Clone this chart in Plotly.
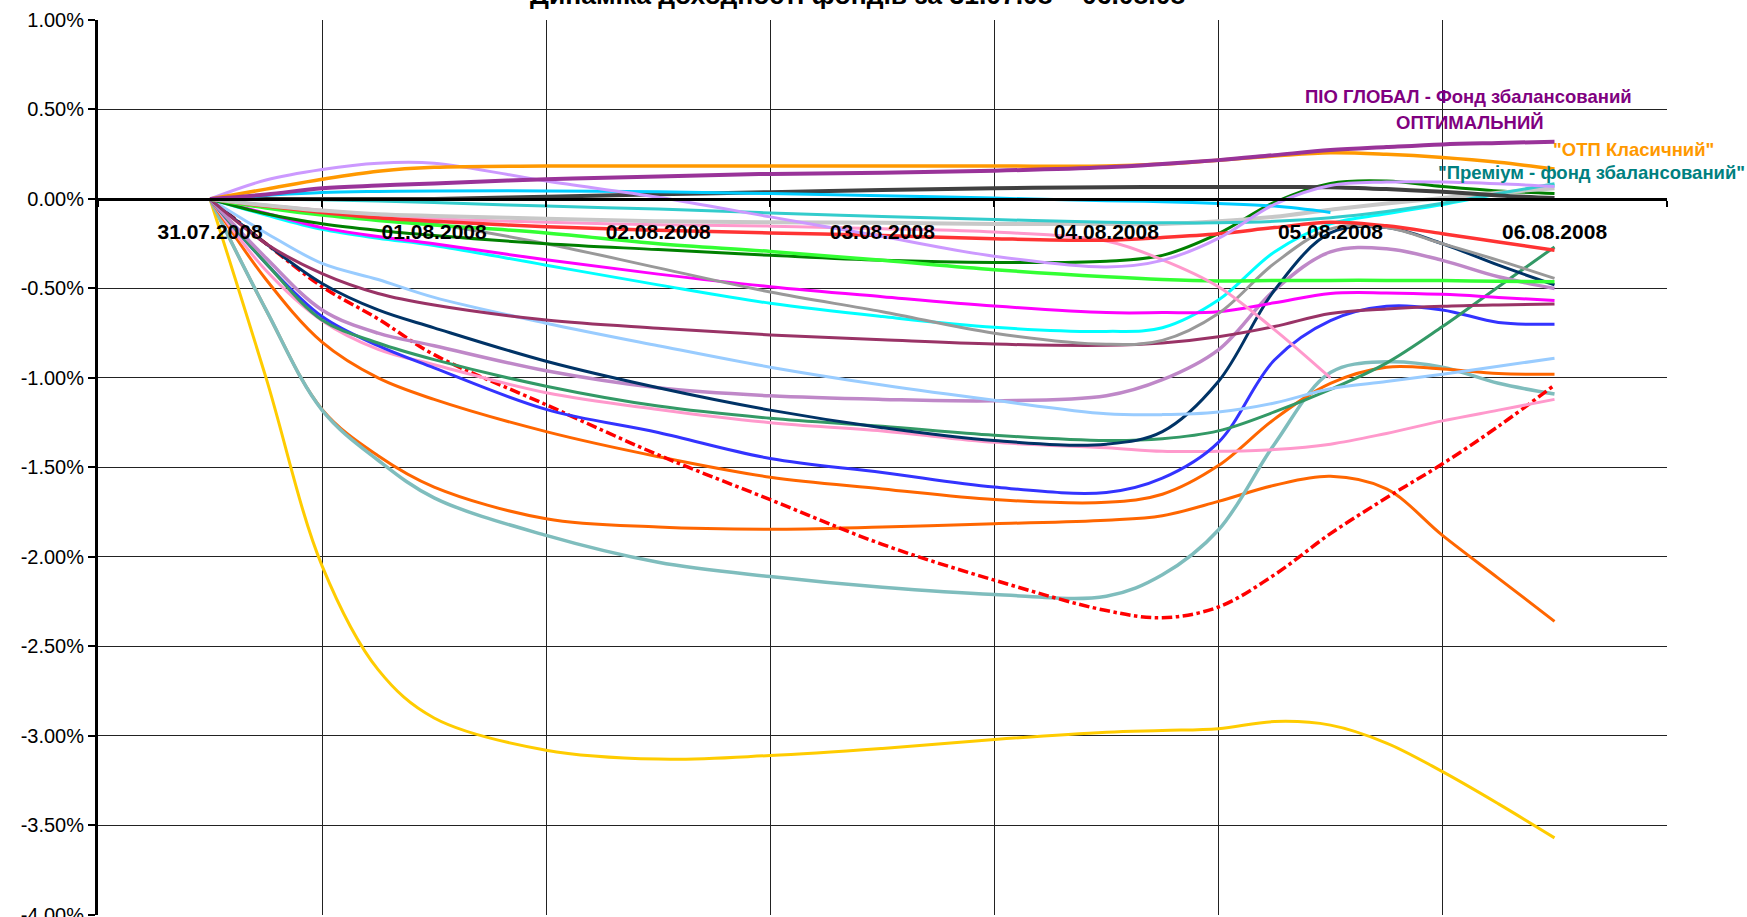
import plotly.graph_objects as go

# ---------------- data ----------------
dates = ["31.07.2008", "01.08.2008", "02.08.2008", "03.08.2008",
         "04.08.2008", "05.08.2008", "06.08.2008"]
# sampling positions (in days from 31.07.2008)
X = [0, 0.25, 0.5, 0.75, 1, 1.5, 2, 2.5, 3, 3.5, 4, 4.25, 4.5, 4.75, 5, 5.25, 5.5, 5.75, 6]

pio_optimal = [0, .025, .06, .075, .087, .11, .125, .14, .147, .158, .177, .195, .217, .245, .273, .29, .305, .313, .32]
otp_classic = [0, .055, .11, .155, .177, .184, .184, .184, .184, .184, .184, .195, .217, .24, .258, .25, .232, .205, .167]
s_lilac = [0, .106, .165, .2, .2, .1, .01, -.1, -.21, -.32, -.38, -.343, -.22, -.03, .075, .095, .095, .085, .07]
s_skyblue = [0, .02, .036, .042, .045, .045, .04, .03, .018, .005, -.01, -.015, -.025, -.04, -.075, None, None, None, None]
s_darkgray = [0, 0, 0, 0, 0, .013, .026, .038, .05, .06, .066, .067, .067, .067, .066, .055, .04, .02, .005]
premium = [0, -.002, -.005, -.012, -.02, -.04, -.056, -.078, -.098, -.115, -.13, -.133, -.133, -.125, -.105, -.07, -.024, .03, .085]
s_lightgray = [0, -.035, -.065, -.085, -.095, -.11, -.125, -.13, -.133, -.14, -.14, -.14, -.125, -.1, -.06, -.025, .005, .035, .06]
s_red = [0, -.04, -.075, -.105, -.125, -.155, -.175, -.19, -.204, -.222, -.23, -.215, -.194, -.16, -.13, -.15, -.194, -.24, -.287]
s_pink1 = [0, -.035, -.065, -.09, -.11, -.13, -.144, -.152, -.167, -.185, -.235, -.34, -.49, -.73, -1.0, None, None, None, None]
s_lime = [0, -.05, -.09, -.12, -.145, -.19, -.25, -.293, -.343, -.395, -.435, -.45, -.458, -.456, -.455, -.455, -.456, -.46, -.462]
s_green = [0, -.083, -.139, -.176, -.204, -.25, -.283, -.315, -.343, -.355, -.348, -.315, -.194, -.019, .087, .1, .07, .045, .031]
s_gray = [0, -.037, -.065, -.1, -.14, -.25, -.385, -.52, -.63, -.75, -.812, -.79, -.64, -.36, -.167, -.16, -.25, -.343, -.444]
s_magenta = [0, -.08, -.16, -.21, -.25, -.34, -.42, -.49, -.546, -.598, -.635, -.635, -.63, -.58, -.528, -.525, -.533, -.55, -.568]
s_cyan = [0, -.09, -.17, -.22, -.26, -.37, -.48, -.583, -.657, -.717, -.74, -.72, -.565, -.296, -.139, -.083, -.031, .028, .074]
s_maroon = [0, -.25, -.417, -.528, -.593, -.676, -.722, -.76, -.787, -.811, -.818, -.805, -.77, -.713, -.64, -.615, -.6, -.592, -.587]
s_lightblue = [0, -.19, -.36, -.45, -.55, -.694, -.82, -.94, -1.04, -1.125, -1.2, -1.205, -1.19, -1.14, -1.06, -1.02, -.98, -.935, -.89]
s_navy = [0, -.25, -.472, -.62, -.72, -.907, -1.055, -1.18, -1.278, -1.35, -1.37, -1.3, -1.02, -.51, -.19, -.16, -.25, -.37, -.48]
s_mauve = [0, -.33, -.62, -.75, -.82, -.96, -1.055, -1.1, -1.12, -1.128, -1.1, -1.01, -.843, -.51, -.296, -.278, -.343, -.435, -.5]
s_seagreen = [0, -.36, -.676, -.805, -.898, -1.046, -1.157, -1.225, -1.27, -1.32, -1.35, -1.34, -1.296, -1.19, -1.064, -.917, -.713, -.49, -.268]
s_blue = [0, -.36, -.657, -.82, -.944, -1.176, -1.305, -1.45, -1.528, -1.61, -1.64, -1.56, -1.36, -.9, -.68, -.6, -.62, -.69, -.7]
s_pink2 = [0, -.4, -.68, -.84, -.926, -1.083, -1.176, -1.25, -1.296, -1.36, -1.39, -1.41, -1.41, -1.4, -1.37, -1.31, -1.24, -1.18, -1.12]
s_reddash = [0, -.25, -.49, -.67, -.87, -1.15, -1.43, -1.68, -1.93, -2.13, -2.3, -2.34, -2.28, -2.1, -1.87, -1.67, -1.48, -1.27, -1.04]
s_orange1 = [0, -.45, -.8, -1.0, -1.12, -1.3, -1.44, -1.555, -1.62, -1.68, -1.695, -1.65, -1.49, -1.23, -1.03, -.94, -.95, -.975, -.98]
s_orange2 = [0, -.62, -1.176, -1.435, -1.61, -1.787, -1.833, -1.845, -1.833, -1.815, -1.795, -1.77, -1.69, -1.6, -1.55, -1.62, -1.88, -2.12, -2.36]
s_tealgray = [0, -.62, -1.18, -1.46, -1.67, -1.88, -2.03, -2.11, -2.17, -2.21, -2.22, -2.1, -1.85, -1.37, -.97, -.91, -.94, -1.03, -1.09]
s_yellow = [0, -1.0, -2.05, -2.63, -2.9, -3.08, -3.13, -3.11, -3.07, -3.02, -2.98, -2.97, -2.96, -2.92, -2.94, -3.04, -3.2, -3.38, -3.57]

y_ticks = [1.0, 0.5, 0.0, -0.5, -1.0, -1.5, -2.0, -2.5, -3.0, -3.5, -4.0]

title_text = "Динаміка доходності фондів за 31.07.08 – 06.08.08"
label_pio_1 = "ПІО ГЛОБАЛ - Фонд збалансований"
label_pio_2 = "ОПТИМАЛЬНИЙ"
label_otp = "\"ОТП Класичний\""
label_premium = "\"Преміум - фонд збалансований\""

# (values, color, width, dash)
series = [
    (s_yellow, "#FFCC00", 3, "solid"),
    (s_orange2, "#FF6600", 3, "solid"),
    (s_tealgray, "#7FBDBD", 3.5, "solid"),
    (s_orange1, "#FF6600", 3, "solid"),
    (s_reddash, "#FF0000", 3.5, "dashdot"),
    (s_pink2, "#FF99CC", 3, "solid"),
    (s_blue, "#3333FF", 3, "solid"),
    (s_seagreen, "#339966", 3, "solid"),
    (s_mauve, "#BF88C8", 3.5, "solid"),
    (s_navy, "#003366", 3, "solid"),
    (s_lightblue, "#99CCFF", 3, "solid"),
    (s_maroon, "#993366", 3, "solid"),
    (s_cyan, "#00FFFF", 3, "solid"),
    (s_magenta, "#FF00FF", 3, "solid"),
    (s_gray, "#999999", 3, "solid"),
    (s_green, "#008000", 3, "solid"),
    (s_lime, "#33FF33", 3.5, "solid"),
    (s_pink1, "#FF99CC", 3, "solid"),
    (s_red, "#FF3333", 3.5, "solid"),
    (s_lightgray, "#C8C8C8", 4, "solid"),
    (premium, "#33CCCC", 3, "solid"),
    (s_darkgray, "#404040", 4, "solid"),
    (s_skyblue, "#00CCFF", 3, "solid"),
    (s_lilac, "#CC99FF", 3, "solid"),
    (otp_classic, "#FF9900", 3.5, "solid"),
    (pio_optimal, "#993399", 4, "solid"),
]

fig = go.Figure()
for vals, color, width, dash in series:
    fig.add_trace(go.Scatter(
        x=X, y=vals, mode="lines",
        line=dict(color=color, width=width, dash=dash, shape="spline", smoothing=1),
        connectgaps=False, showlegend=False, hoverinfo="skip"))

W, H = 1747, 917
L, R, T, B = 98, 80, 20, 2
pw, ph = W - L - R, H - T - B


def px(xp):
    return (xp - L) / pw


def py(yp):
    return (H - B - yp) / ph


FONT = "Liberation Sans, Arial, sans-serif"

fig.update_layout(
    width=W, height=H,
    margin=dict(l=L, r=R, t=T, b=B, pad=0, autoexpand=False),
    paper_bgcolor="white", plot_bgcolor="white",
    font=dict(family=FONT, color="black"),
    showlegend=False,
    xaxis=dict(
        range=[-0.5, 6.502], anchor="free", position=0.8,
        showline=True, linecolor="black", linewidth=3,
        tickmode="array", tickvals=list(range(len(dates))), ticktext=dates,
        tickfont=dict(size=21, family=FONT, weight="bold", color="black"),
        ticks="", showgrid=False, zeroline=False, automargin=False,
        ticklabelstandoff=13,
        minor=dict(tickmode="linear", tick0=0.5, dtick=1, showgrid=True,
                   gridcolor="#222222", gridwidth=1, ticks="outside",
                   ticklen=6, tickwidth=2, tickcolor="black"),
    ),
    yaxis=dict(
        range=[-4.001, 1], tickmode="array", tickvals=y_ticks,
        ticktext=[f"{v:.2f}%" for v in y_ticks],
        tickfont=dict(size=20, family=FONT, color="black"),
        ticklabeloverflow="allow", automargin=False,
        showline=True, linecolor="black", linewidth=3,
        ticks="outside", ticklen=7, tickwidth=2, tickcolor="black",
        showgrid=True, gridcolor="#222222", gridwidth=1, zeroline=False,
    ),
    annotations=[
        dict(text=title_text, xref="paper", yref="paper", x=px(857), y=py(-5.5),
             xanchor="center", yanchor="middle", showarrow=False,
             font=dict(size=26.5, family=FONT, weight="bold", color="black")),
        dict(text=label_pio_1, xref="paper", yref="paper", x=px(1468), y=py(97),
             xanchor="center", yanchor="middle", showarrow=False,
             font=dict(size=18.5, family=FONT, weight="bold", color="#800080")),
        dict(text=label_pio_2, xref="paper", yref="paper", x=px(1470), y=py(122.5),
             xanchor="center", yanchor="middle", showarrow=False,
             font=dict(size=18.5, family=FONT, weight="bold", color="#800080")),
        dict(text=label_otp, xref="paper", yref="paper", x=px(1633), y=py(150),
             xanchor="center", yanchor="middle", showarrow=False,
             font=dict(size=18.5, family=FONT, weight="bold", color="#FF9900")),
        dict(text=label_premium, xref="paper", yref="paper", x=px(1591), y=py(172),
             xanchor="center", yanchor="middle", showarrow=False,
             font=dict(size=18.5, family=FONT, weight="bold", color="#008080")),
    ],
)

fig.write_html("out.html", config={"displayModeBar": False},
               post_script="document.body.style.margin='0';document.body.style.overflow='hidden';")
